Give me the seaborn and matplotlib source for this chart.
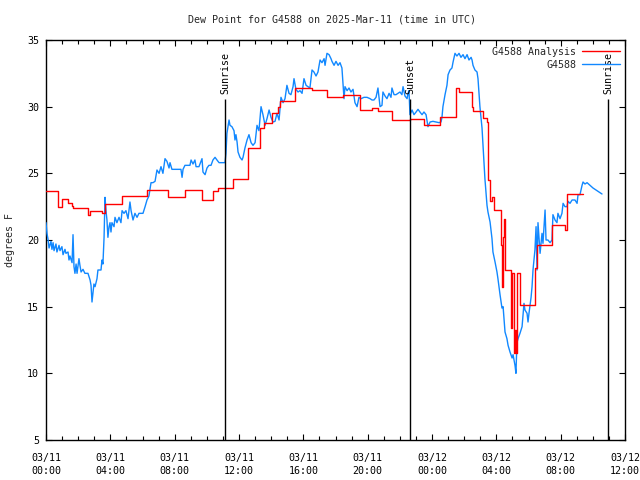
import matplotlib
matplotlib.use("Agg")
import matplotlib.pyplot as plt
import matplotlib.dates as mdates
import pandas as pd
import seaborn as sns

# ---- data (hours after 2025-03-11 00:00 UTC, dew point in F) ----
obs_hours = [0.00, 0.06, 0.12, 0.19, 0.31, 0.37, 0.44, 0.50, 0.62, 0.68, 0.81, 0.87, 0.99, 1.06, 1.18,
             1.24, 1.37, 1.43, 1.49, 1.62, 1.68, 1.74, 1.80, 1.87, 1.93, 2.05, 2.11, 2.18, 2.30, 2.42,
             2.61, 2.74, 2.80, 2.86, 2.92, 2.98, 3.05, 3.17, 3.23, 3.42, 3.48, 3.54, 3.61, 3.67, 3.73,
             3.79, 3.85, 3.92, 3.98, 4.04, 4.10, 4.23, 4.29, 4.41, 4.54, 4.66, 4.73, 4.85, 4.97, 5.10,
             5.22, 5.29, 5.41, 5.53, 5.66, 5.78, 5.91, 6.03, 6.16, 6.28, 6.40, 6.53, 6.65, 6.78, 6.90,
             7.03, 7.15, 7.27, 7.40, 7.52, 7.65, 7.71, 7.83, 8.02, 8.21, 8.39, 8.46, 8.52, 8.64, 8.83,
             8.95, 9.02, 9.14, 9.26, 9.33, 9.51, 9.70, 9.76, 9.89, 10.01, 10.13, 10.26, 10.38, 10.51, 10.63,
             10.76, 10.88, 11.01, 11.13, 11.19, 11.25, 11.38, 11.44, 11.56, 11.69, 11.75, 11.81, 11.88, 11.94, 12.06,
             12.19, 12.25, 12.37, 12.50, 12.62, 12.75, 12.87, 13.00, 13.12, 13.24, 13.37, 13.49, 13.62, 13.74, 13.87,
             13.99, 14.11, 14.24, 14.36, 14.49, 14.61, 14.74, 14.86, 14.98, 15.11, 15.23, 15.36, 15.42, 15.54, 15.67,
             15.79, 15.92, 16.04, 16.17, 16.29, 16.41, 16.54, 16.66, 16.79, 16.91, 17.04, 17.16, 17.29, 17.35, 17.47,
             17.60, 17.72, 17.78, 17.91, 18.03, 18.16, 18.28, 18.40, 18.47, 18.53, 18.59, 18.72, 18.84, 18.96, 19.09,
             19.21, 19.34, 19.46, 19.59, 19.77, 19.96, 20.15, 20.27, 20.39, 20.52, 20.64, 20.77, 20.89, 20.95, 21.08,
             21.20, 21.33, 21.45, 21.51, 21.64, 21.76, 21.89, 22.01, 22.13, 22.20, 22.32, 22.45, 22.51, 22.57, 22.63,
             22.76, 22.88, 23.01, 23.13, 23.25, 23.38, 23.50, 23.63, 23.75, 23.88, 24.06, 24.25, 24.44, 24.56, 24.62,
             24.68, 24.81, 24.93, 25.00, 25.12, 25.24, 25.31, 25.43, 25.55, 25.68, 25.80, 25.93, 26.05, 26.18, 26.30,
             26.43, 26.49, 26.55, 26.67, 26.80, 26.86, 26.98, 27.11, 27.17, 27.29, 27.42, 27.48, 27.61, 27.73, 27.79,
             27.92, 28.04, 28.10, 28.23, 28.35, 28.42, 28.54, 28.66, 28.73, 28.85, 28.98, 29.04, 29.16, 29.22, 29.28,
             29.35, 29.47, 29.60, 29.72, 29.78, 29.91, 29.97, 30.03, 30.16, 30.22, 30.28, 30.40, 30.47, 30.53, 30.59,
             30.72, 30.84, 30.90, 31.03, 31.09, 31.21, 31.34, 31.46, 31.52, 31.65, 31.77, 31.83, 31.96, 32.08, 32.15,
             32.27, 32.39, 32.46, 32.58, 32.71, 32.89, 33.02, 33.08, 33.20, 33.33, 33.39, 33.51, 33.64, 33.82, 34.01,
             34.20, 34.38, 34.57]
obs_dewpt = [21.3, 20.5, 20.1, 19.4, 19.9, 19.3, 19.8, 19.2, 19.7, 19.1, 19.6, 19.2, 19.5, 18.9, 19.3,
             19.0, 19.1, 18.5, 18.8, 18.3, 20.4, 18.0, 17.5, 18.2, 17.5, 18.6, 18.1, 17.6, 17.8, 17.5,
             17.5, 17.0, 16.6, 15.35, 16.0, 16.7, 16.5, 17.1, 17.75, 17.75, 18.5, 18.2, 20.2, 23.2, 22.2,
             21.5, 20.2, 21.0, 21.3, 20.6, 21.3, 21.0, 21.7, 21.3, 21.7, 21.3, 22.2, 22.0, 22.2, 21.6,
             22.85, 22.2, 21.5, 22.0, 21.7, 22.0, 22.0, 22.0, 22.5, 23.0, 23.3, 24.3, 24.3, 24.4, 25.25,
             25.0, 25.5, 25.0, 26.1, 25.9, 25.4, 25.8, 25.3, 25.3, 25.3, 25.3, 24.7, 25.3, 25.6, 25.6,
             25.6, 26.0, 25.7, 26.0, 25.5, 25.5, 26.1, 25.1, 24.9, 25.4, 25.6, 25.6, 26.0, 26.2, 26.0,
             25.8, 25.8, 25.8, 25.8, 26.5, 28.0, 29.0, 28.6, 28.5, 28.2, 27.5, 27.9, 27.35, 26.6, 26.2,
             26.0, 26.2, 26.9, 27.5, 27.9, 27.3, 27.1, 27.3, 28.6, 28.2, 30.0, 29.4, 28.6, 29.1, 29.75,
             29.2, 28.85, 28.9, 29.5, 29.0, 30.7, 30.3, 30.6, 31.6, 31.0, 30.9, 31.5, 32.1, 31.3, 31.1,
             31.2, 31.0, 32.1, 31.6, 31.5, 31.4, 32.75, 32.6, 32.3, 32.6, 33.5, 33.3, 33.6, 33.1, 34.0,
             33.9, 33.6, 33.4, 33.1, 33.4, 33.1, 33.3, 32.9, 31.6, 30.6, 31.5, 31.2, 31.4, 31.1, 31.3,
             30.3, 30.0, 30.7, 30.6, 30.7, 30.7, 30.6, 30.5, 30.5, 30.7, 31.4, 30.0, 30.1, 31.1, 30.8,
             30.6, 31.0, 30.7, 31.4, 30.9, 30.9, 31.0, 31.1, 30.9, 31.5, 30.8, 30.6, 31.0, 31.2, 29.4,
             29.75, 29.4, 29.6, 29.8, 29.6, 29.4, 29.6, 29.4, 28.5, 28.85, 28.9, 28.85, 28.8, 28.85, 29.2,
             30.0, 30.9, 31.6, 32.4, 32.75, 32.9, 33.35, 34.0, 33.8, 34.0, 33.7, 33.9, 33.6, 33.9, 33.5,
             33.7, 33.5, 33.1, 32.75, 32.6, 32.1, 30.0, 28.4, 27.1, 24.6, 22.6, 22.1, 21.35, 20.1, 19.1,
             18.35, 17.6, 17.1, 15.9, 14.9, 15.0, 13.1, 12.6, 12.1, 11.6, 11.15, 11.4, 10.6, 10.0, 12.3,
             12.6, 13.0, 13.5, 15.25, 14.75, 14.5, 13.85, 14.5, 15.7, 16.5, 17.75, 19.25, 21.0, 17.75, 21.3,
             19.0, 20.5, 19.75, 22.25, 20.0, 20.0, 19.8, 20.0, 21.9, 21.5, 21.3, 22.0, 21.6, 22.0, 22.75,
             22.5, 22.5, 22.9, 22.75, 23.0, 23.0, 22.75, 23.4, 23.4, 24.1, 24.35, 24.2, 24.3, 24.1, 23.9,
             23.75, 23.6, 23.45]

ana_hours = [0.00, 0.75, 0.99, 1.37, 1.62, 1.68, 2.61, 2.74, 3.48, 3.67, 4.73, 6.28, 7.59, 8.64, 9.70,
             10.38, 10.69, 11.63, 12.56, 13.31, 13.55, 14.05, 14.42, 14.55, 15.48, 16.54, 17.47, 18.47, 19.52, 20.27,
             20.64, 21.51, 22.63, 23.50, 24.50, 25.49, 25.68, 26.49, 26.55, 27.17, 27.42, 27.48, 27.61, 27.73, 27.86,
             28.29, 28.35, 28.42, 28.48, 28.54, 28.91, 28.98, 29.10, 29.16, 29.22, 29.28, 29.47, 30.40, 30.53, 31.46,
             32.27, 32.39, 33.39]
ana_dewpt = [23.7, 22.45, 23.1, 22.75, 22.55, 22.4, 21.9, 22.2, 22.0, 22.7, 23.3, 23.75, 23.2, 23.75, 23.0,
             23.7, 23.9, 24.55, 26.9, 28.4, 28.75, 29.5, 30.0, 30.4, 31.4, 31.25, 30.7, 30.85, 29.75, 29.9,
             29.7, 29.0, 29.1, 28.6, 29.2, 31.4, 31.1, 30.0, 29.7, 29.15, 28.85, 24.5, 22.9, 23.2, 22.25,
             19.6, 16.5, 20.2, 21.6, 17.75, 13.4, 17.5, 11.5, 13.25, 11.5, 17.5, 15.1, 17.9, 19.6, 21.1,
             20.75, 23.45, 23.45]

event_labels = ["Sunrise", "Sunset", "Sunrise"]
event_hours = [11.13, 22.63, 34.94]

title = "Dew Point for G4588 on 2025-Mar-11 (time in UTC)"
obs_name = "G4588"
ana_name = "G4588 Analysis"

# ---- build frames ----
start = pd.Timestamp("2025-03-11 00:00")
obs = pd.DataFrame({"time": start + pd.to_timedelta(obs_hours, unit="h"), "dewpt": obs_dewpt})
ana = pd.DataFrame({"time": start + pd.to_timedelta(ana_hours, unit="h"), "dewpt": ana_dewpt})
event_times = start + pd.to_timedelta(event_hours, unit="h")

sns.set_style("ticks")
plt.rcParams["font.family"] = ["DejaVu Sans Mono"]
plt.rcParams["font.size"] = 7.2

fig = plt.figure(figsize=(6.4, 4.8), dpi=100)
ax = fig.add_axes([46 / 640, 1 - 440 / 480, 579 / 640, 400 / 480])

sns.lineplot(data=obs, x="time", y="dewpt", ax=ax, color="#1188ff", lw=1.0,
             estimator=None, sort=False, label=obs_name, zorder=3)
sns.lineplot(data=ana, x="time", y="dewpt", ax=ax, color="#ff0000", lw=1.0,
             estimator=None, sort=False, drawstyle="steps-post", label=ana_name, zorder=4)

top_line = 30.6
for t, lab in zip(event_times, event_labels):
    ax.vlines(t, 5, top_line, color="black", lw=1.0, zorder=5)
    ax.text(t, top_line + 0.35, lab, rotation=90, ha="center", va="bottom",
            fontsize=7.2, color="black")

ax.set_xlim(start, start + pd.Timedelta(hours=36))
ax.set_ylim(5, 35)
ax.set_yticks(range(5, 36, 5))
ax.xaxis.set_major_locator(mdates.HourLocator(byhour=range(0, 24, 4)))
ax.xaxis.set_minor_locator(mdates.HourLocator())
ax.xaxis.set_major_formatter(mdates.DateFormatter("%m/%d\n%H:%M"))
for lbl in ax.get_xticklabels():
    lbl.set_linespacing(1.45)

ax.tick_params(axis="both", which="both", direction="in", top=True, right=True,
               colors="black", labelsize=7.2, width=0.8)
ax.tick_params(axis="x", which="major", length=4, pad=9)
ax.tick_params(axis="x", which="minor", length=3)
ax.tick_params(axis="y", which="major", length=4, pad=5)
for sp in ax.spines.values():
    sp.set_visible(True)
    sp.set_color("black")
    sp.set_linewidth(1.0)

ax.set_xlabel("")
ax.set_ylabel("")
fig.text(10.5 / 640, 0.5, "degrees F", rotation=90, ha="center", va="center", fontsize=7.2)
fig.text(332 / 640, 1 - 19 / 480, title, ha="center", va="center", fontsize=7.2)

handles, labels = ax.get_legend_handles_labels()
order = [labels.index(ana_name), labels.index(obs_name)]
ax.legend([handles[i] for i in order], [labels[i] for i in order],
          loc="upper right", bbox_to_anchor=(0.992, 0.983), frameon=False,
          markerfirst=False, borderpad=0, borderaxespad=0, handlelength=3.8,
          handletextpad=0.6, labelspacing=0.3, fontsize=7.2)

fig.savefig("out.png", dpi=100)
